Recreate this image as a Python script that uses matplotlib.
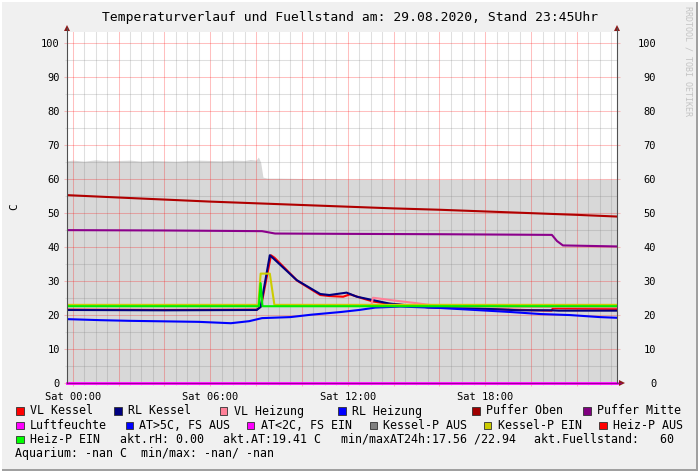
import matplotlib
matplotlib.use("Agg")
import matplotlib.pyplot as plt
from matplotlib.patches import Rectangle, Polygon
from matplotlib.lines import Line2D
from matplotlib.ticker import FixedLocator, MultipleLocator

# ---------------- data ----------------
title = "Temperaturverlauf und Fuellstand am: 29.08.2020, Stand 23:45Uhr"
x_range = [-0.25, 23.75]
x_major = [0, 2, 4, 6, 8, 10, 12, 14, 16, 18, 20, 22]
x_label_ticks = {0: "Sat 00:00", 6: "Sat 06:00", 12: "Sat 12:00", 18: "Sat 18:00"}
y_ticks = [0, 10, 20, 30, 40, 50, 60, 70, 80, 90, 100]

fuell_t = [-0.25, 0.0, 0.5, 1.0, 1.5, 2.0, 2.5, 3.0, 3.5, 4.0, 4.5, 5.0, 5.5, 6.0, 6.5, 7.0,
           7.5, 7.75, 8.0, 8.1, 8.2, 8.3, 8.5, 9.0, 10.0, 11.0, 12.0, 14.0, 16.0, 18.0, 20.0, 22.0, 23.75]
fuell_v = [65.4, 65.6, 65.3, 65.7, 65.4, 65.5, 65.6, 65.3, 65.5, 65.4, 65.3, 65.5, 65.6, 65.5, 65.4, 65.6,
           65.5, 65.8, 65.6, 66.5, 65.0, 60.6, 60.3, 60.3, 60.2, 60.1, 60.0, 60.0, 59.9, 60.0, 60.0, 59.9, 60.0]

oben_t = [-0.25, 2, 4, 6, 8, 10, 12, 14, 16, 18, 20, 22, 23.75]
oben_v = [55.3, 54.6, 54.0, 53.4, 52.9, 52.4, 51.9, 51.4, 51.0, 50.5, 50.0, 49.5, 49.0]

mitte_t = [-0.25, 4, 8.26, 8.83, 12, 16, 20.91, 21.13, 21.39, 23.75]
mitte_v = [45.0, 44.9, 44.7, 44.0, 43.9, 43.8, 43.6, 41.8, 40.5, 40.2]

rlk_t = [-0.25, 4, 8.03, 8.2, 8.6, 8.75, 9.77, 10.8, 11.2, 11.95, 12.4, 13.1, 13.8, 15.5, 17.8, 19.5, 20.9, 21.2, 23.75]
rlk_v = [21.5, 21.4, 21.5, 22.4, 37.6, 36.7, 30.3, 26.2, 25.9, 26.6, 25.4, 24.4, 23.4, 22.3, 21.9, 21.4, 21.4, 21.3, 21.3]

vlk_t = [-0.25, 4, 8.03, 8.22, 8.65, 8.8, 9.8, 10.8, 11.2, 11.8, 12.1, 12.6, 13.1, 13.8, 15.5, 17.8, 20.9, 20.95, 23.75]
vlk_v = [21.6, 21.5, 21.6, 22.6, 37.6, 36.9, 30.1, 25.9, 25.6, 25.4, 26.1, 25.0, 24.0, 23.3, 22.3, 21.8, 21.3, 22.0, 21.8]

vlh_t = [13.05, 13.1, 14.0, 15.0, 16.0, 23.75]
vlh_v = [23.6, 25.1, 24.3, 23.5, 22.6, 22.3]

rlh_t = [-0.25, 1.2, 2.5, 5.5, 6.9, 7.7, 8.26, 9.5, 10.4, 11.7, 12.5, 13.2, 14.3, 16.0, 17.8, 19.1, 20.4, 21.7, 23.0, 23.75]
rlh_v = [18.8, 18.5, 18.3, 18.0, 17.6, 18.2, 19.1, 19.4, 20.1, 20.9, 21.5, 22.2, 22.5, 22.1, 21.4, 20.9, 20.3, 20.0, 19.4, 19.2]

kesselp_t = [-0.25, 8.1, 8.2, 8.6, 8.8, 23.75]
kesselp_v = [23.0, 23.0, 32.2, 32.2, 23.0, 23.0]

heizp_t = [-0.25, 8.12, 8.2, 8.28, 23.75]
heizp_v = [22.6, 22.6, 29.4, 22.6, 22.6]

luft_t = [-0.25, 23.75]
luft_v = [0.0, 0.0]

legend_rows = [
    [("VL Kessel", "#ff0000"), ("RL Kessel", "#000080"), ("VL Heizung", "#ff8098"),
     ("RL Heizung", "#0000ff"), ("Puffer Oben", "#a00000"), ("Puffer Mitte", "#800080")],
    [("Luftfeuchte", "#ff00ff"), ("AT>5C, FS AUS", "#0000ff"), ("AT<2C, FS EIN", "#ff00ff"),
     ("Kessel-P AUS", "#808080"), ("Kessel-P EIN", "#cccc00"), ("Heiz-P AUS", "#ff0000")],
    [("Heiz-P EIN", "#00ff00")],
]
legend_box_x = [[16, 114, 220, 338, 472, 583], [16, 125.5, 247, 369.5, 484, 599], [16]]
info_row3 = [("akt.rH: 0.00", 120.7), ("akt.AT:19.41 C", 224), ("min/maxAT24h:17.56 /22.94", 342),
             ("akt.Fuellstand:   60", 534.3)]
info_row4 = "Aquarium: -nan C  min/max: -nan/ -nan"

# ---------------- figure ----------------
W, H = 698, 471
plt.rcParams["font.family"] = ["DejaVu Sans Mono"]
fig = plt.figure(figsize=(W / 100, H / 100), dpi=100, facecolor="#f0f0f0")

def fx(px):
    return px / W

def fy(py):
    return 1 - py / H

L, R, T, B = 67, 617, 32, 383
ax = fig.add_axes([fx(L), fy(B), (R - L) / W, (B - T) / H])
ax.set_facecolor("white")
ax.set_xlim(x_range)
ax.set_ylim(0, (B - T) / 3.397)

# area
ax.fill_between(fuell_t, 0, fuell_v, color="#d8d8d8", lw=0, zorder=1)

lw = 1.5
ax.plot(vlk_t, vlk_v, color="#ff0000", lw=lw, zorder=3)
ax.plot(rlk_t, rlk_v, color="#000080", lw=lw, zorder=3)
ax.plot(vlh_t, vlh_v, color="#ff8098", lw=lw, zorder=3)
ax.plot(rlh_t, rlh_v, color="#0000ff", lw=lw, zorder=3)
ax.plot(oben_t, oben_v, color="#b00000", lw=lw, zorder=3)
ax.plot(mitte_t, mitte_v, color="#8b008b", lw=lw, zorder=3)
ax.plot(kesselp_t, kesselp_v, color="#cccc00", lw=lw, zorder=3)
ax.plot(heizp_t, heizp_v, color="#00ee00", lw=lw, zorder=3)
ax.plot(luft_t, luft_v, color="#ff00ff", lw=2.0, zorder=4, clip_on=False)

# grid
ax.set_axisbelow("line")
ax.xaxis.set_major_locator(FixedLocator(x_major))
ax.xaxis.set_minor_locator(MultipleLocator(0.5))
ax.set_xticklabels([x_label_ticks.get(v, "") for v in x_major])
ax.yaxis.set_major_locator(FixedLocator(y_ticks))
ax.yaxis.set_minor_locator(MultipleLocator(5))
ax.grid(which="major", color="#ff0000", alpha=0.25, lw=0.75, zorder=1.5)
ax.grid(which="minor", color="#808080", alpha=0.25, lw=0.75, zorder=1.5)

for s in ["top", "right", "bottom", "left"]:
    ax.spines[s].set_visible(False)

ax.tick_params(which="major", length=2.2, width=0.75, color="#f4b8b8", labelsize=7.5,
               direction="out")
ax.tick_params(which="minor", length=1.5, width=0.75, color="#d8d8d8", direction="out")
ax.tick_params(axis="y", pad=3)
ax.tick_params(axis="x", pad=4)

ax2 = ax.twinx()
ax2.set_ylim(ax.get_ylim())
ax2.yaxis.set_major_locator(FixedLocator(y_ticks))
ax2.set_yticklabels([str(v) for v in y_ticks])
for s in ["top", "right", "bottom", "left"]:
    ax2.spines[s].set_visible(False)
ax2.tick_params(axis="y", which="major", length=2.2, width=0.75, color="#f4b8b8",
                labelsize=7.5, pad=26)
plt.setp(ax2.get_yticklabels(), ha="right")

ax.set_ylabel("C", fontsize=8, labelpad=0)
ax.yaxis.set_label_coords((19 - L) / (R - L), (B - 207) / (B - T))

# axis lines and arrows
axis_col = "#505050"
fig.add_artist(Line2D([fx(L), fx(L)], [fy(B), fy(28)], color=axis_col, lw=0.8))
fig.add_artist(Line2D([fx(R), fx(R)], [fy(B), fy(28)], color=axis_col, lw=0.8))
fig.add_artist(Line2D([fx(L), fx(621)], [fy(B - 0.5), fy(B - 0.5)], color="#8b008b", lw=0.6))
arrow_col = "#8b1a1a"
for ax_x in (L, R):
    fig.add_artist(Polygon([[fx(ax_x), fy(25)], [fx(ax_x - 3), fy(31)], [fx(ax_x + 3), fy(31)]],
                           closed=True, color=arrow_col, lw=0))
fig.add_artist(Polygon([[fx(625), fy(B)], [fx(619), fy(B - 3)], [fx(619), fy(B + 3)]],
                       closed=True, color=arrow_col, lw=0))

# title, watermark
fig.text(fx(350), fy(17), title, ha="center", va="center", fontsize=9.4, color="black")
fig.text(fx(688), fy(6), "RRDTOOL / TOBI OETIKER", rotation=270, ha="center", va="top",
         fontsize=6, color="#c4c4c4")

# legend
row_y = [411, 425.3, 439.3, 453.7]
for r, items in enumerate(legend_rows):
    for (label, col), bx in zip(items, legend_box_x[r]):
        fig.add_artist(Rectangle((fx(bx), fy(row_y[r] + 3.7)), 7.5 / W, 7.5 / H, facecolor=col,
                                 edgecolor="#303030", lw=0.6))
        fig.text(fx(bx + 13.6), fy(row_y[r]), label, ha="left", va="center", fontsize=8.4)
for txt, tx in info_row3:
    fig.text(fx(tx - 0.7), fy(row_y[2]), txt, ha="left", va="center", fontsize=8.4)
fig.text(fx(15.3), fy(row_y[3]), info_row4, ha="left", va="center", fontsize=8.4)

# frame shading
fig.add_artist(Rectangle((fx(W - 2), 0), 2 / W, 1, color="#a0a0a0", lw=0))
fig.add_artist(Rectangle((0, 0), 1, 2 / H, color="#a0a0a0", lw=0))
fig.add_artist(Rectangle((0, fy(2)), 1, 2 / H, color="#ffffff", lw=0))
fig.add_artist(Rectangle((0, 0), 2 / W, 1, color="#ffffff", lw=0))

fig.savefig("out.png", dpi=100, facecolor=fig.get_facecolor())
